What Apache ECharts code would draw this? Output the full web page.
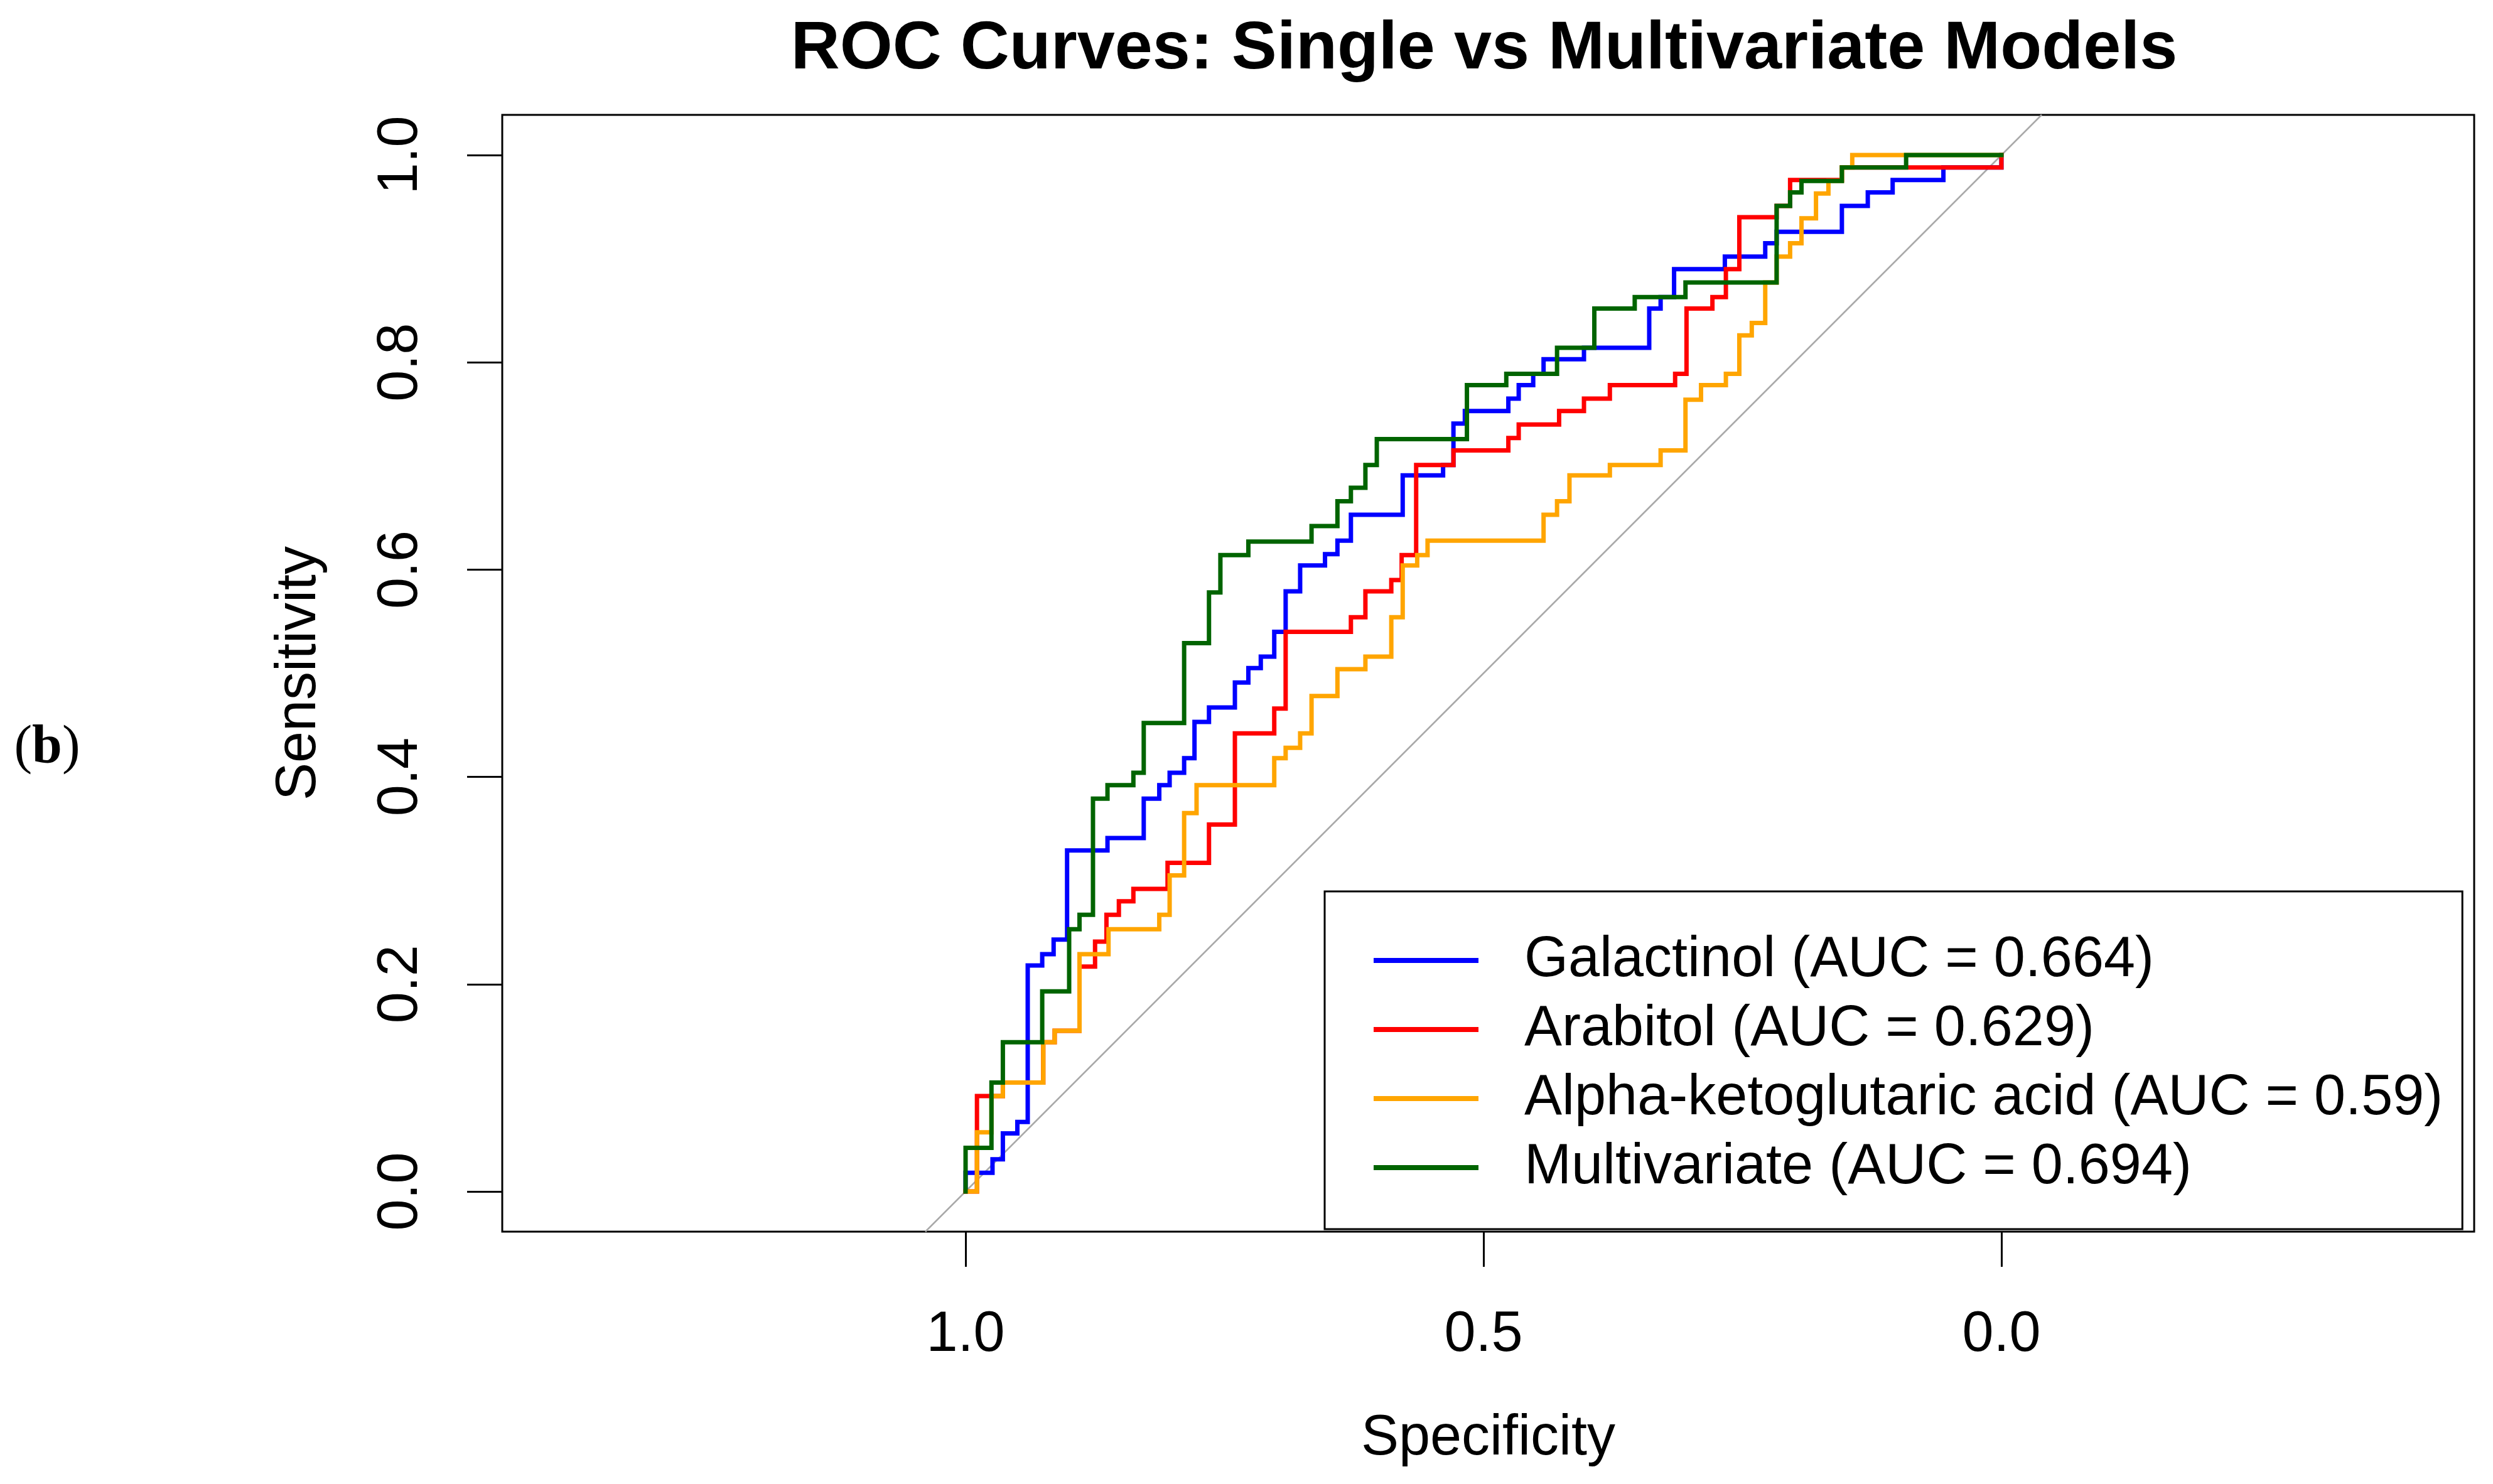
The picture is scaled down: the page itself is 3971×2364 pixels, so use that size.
<!DOCTYPE html>
<html>
<head>
<meta charset="utf-8">
<style>
html,body{margin:0;padding:0;background:#ffffff;}
#chart{width:3971px;height:2364px;}
</style>
<script src="https://cdn.jsdelivr.net/npm/echarts@6.0.0/dist/echarts.min.js"></script>
</head>
<body>
<div id="chart"></div>
<script>
// ---------------- data ----------------
const chartTitle = 'ROC Curves: Single vs Multivariate Models';
const xAxisTitle = 'Specificity';
const yAxisTitle = 'Sensitivity';
const panelLabel = '(b)';

const seriesNames = [
  'Galactinol (AUC = 0.664)',
  'Arabitol (AUC = 0.629)',
  'Alpha-ketoglutaric acid (AUC = 0.59)',
  'Multivariate (AUC = 0.694)'
];
const seriesColors = ['#0000FF', '#FF0000', '#FFA500', '#006400'];

const xTickValues = [0, 0.5, 1];
const yTickValues = [0, 0.2, 0.4, 0.6, 0.8, 1];

// chance (identity) line, clipped to the plotting box
const chanceLine = [[1.0388, -0.0388], [-0.0388, 1.0388]];

// ROC vertices: [specificity, sensitivity]
const galactinolROC = [
  [1,0],[1,0.018],[0.974,0.018],[0.974,0.031],[0.964,0.031],[0.964,0.056],[0.950,0.056],[0.950,0.067],
  [0.940,0.067],[0.940,0.218],[0.926,0.218],[0.926,0.229],[0.915,0.229],[0.915,0.243],[0.902,0.243],
  [0.902,0.329],[0.863,0.329],[0.863,0.341],[0.828,0.341],[0.828,0.379],[0.813,0.379],[0.813,0.392],
  [0.803,0.392],[0.803,0.404],[0.789,0.404],[0.789,0.418],[0.779,0.418],[0.779,0.453],[0.765,0.453],
  [0.765,0.467],[0.740,0.467],[0.740,0.491],[0.727,0.491],[0.727,0.505],[0.715,0.505],[0.715,0.516],
  [0.702,0.516],[0.702,0.540],[0.691,0.540],[0.691,0.579],[0.677,0.579],[0.677,0.604],[0.653,0.604],
  [0.653,0.615],[0.641,0.615],[0.641,0.628],[0.628,0.628],[0.628,0.653],[0.578,0.653],[0.578,0.691],
  [0.539,0.691],[0.539,0.701],[0.529,0.701],[0.529,0.741],[0.518,0.741],[0.518,0.753],[0.476,0.753],
  [0.476,0.765],[0.466,0.765],[0.466,0.778],[0.452,0.778],[0.452,0.789],[0.442,0.789],[0.442,0.803],
  [0.403,0.803],[0.403,0.814],[0.340,0.814],[0.340,0.852],[0.329,0.852],[0.329,0.863],[0.316,0.863],
  [0.316,0.890],[0.267,0.890],[0.267,0.902],[0.228,0.902],[0.228,0.915],[0.217,0.915],[0.217,0.926],
  [0.154,0.926],[0.154,0.951],[0.129,0.951],[0.129,0.964],[0.105,0.964],[0.105,0.976],[0.056,0.976],
  [0.056,0.988],[0,0.988],[0,1]
];

const arabitolROC = [
  [1,0],[0.989,0],[0.989,0.092],[0.964,0.092],[0.964,0.105],[0.925,0.105],[0.925,0.144],[0.914,0.144],
  [0.914,0.155],[0.890,0.155],[0.890,0.217],[0.875,0.217],[0.875,0.241],[0.864,0.241],[0.864,0.267],
  [0.852,0.267],[0.852,0.280],[0.838,0.280],[0.838,0.292],[0.805,0.292],[0.805,0.317],[0.765,0.317],
  [0.765,0.354],[0.740,0.354],[0.740,0.442],[0.702,0.442],[0.702,0.466],[0.691,0.466],[0.691,0.540],
  [0.628,0.540],[0.628,0.554],[0.614,0.554],[0.614,0.579],[0.589,0.579],[0.589,0.590],[0.579,0.590],
  [0.579,0.614],[0.565,0.614],[0.565,0.701],[0.529,0.701],[0.529,0.715],[0.476,0.715],[0.476,0.727],
  [0.466,0.727],[0.466,0.740],[0.427,0.740],[0.427,0.753],[0.403,0.753],[0.403,0.765],[0.378,0.765],
  [0.378,0.778],[0.315,0.778],[0.315,0.789],[0.304,0.789],[0.304,0.852],[0.279,0.852],[0.279,0.863],
  [0.266,0.863],[0.266,0.890],[0.253,0.890],[0.253,0.940],[0.217,0.940],[0.217,0.951],[0.204,0.951],
  [0.204,0.976],[0.154,0.976],[0.154,0.988],[0,0.988],[0,1]
];

const alphaKetoglutaricROC = [
  [1,0],[0.989,0],[0.989,0.057],[0.975,0.057],[0.975,0.092],[0.964,0.092],[0.964,0.105],[0.925,0.105],
  [0.925,0.144],[0.914,0.144],[0.914,0.155],[0.890,0.155],[0.890,0.229],[0.862,0.229],[0.862,0.253],
  [0.813,0.253],[0.813,0.267],[0.803,0.267],[0.803,0.305],[0.789,0.305],[0.789,0.365],[0.777,0.365],
  [0.777,0.392],[0.702,0.392],[0.702,0.418],[0.691,0.418],[0.691,0.428],[0.677,0.428],[0.677,0.442],
  [0.666,0.442],[0.666,0.478],[0.641,0.478],[0.641,0.504],[0.614,0.504],[0.614,0.516],[0.589,0.516],
  [0.589,0.554],[0.578,0.554],[0.578,0.604],[0.564,0.604],[0.564,0.614],[0.554,0.614],[0.554,0.628],
  [0.442,0.628],[0.442,0.653],[0.429,0.653],[0.429,0.666],[0.417,0.666],[0.417,0.691],[0.378,0.691],
  [0.378,0.701],[0.329,0.701],[0.329,0.715],[0.305,0.715],[0.305,0.764],[0.290,0.764],[0.290,0.778],
  [0.266,0.778],[0.266,0.789],[0.253,0.789],[0.253,0.826],[0.241,0.826],[0.241,0.838],[0.228,0.838],
  [0.228,0.877],[0.217,0.877],[0.217,0.902],[0.204,0.902],[0.204,0.915],[0.193,0.915],[0.193,0.939],
  [0.179,0.939],[0.179,0.963],[0.167,0.963],[0.167,0.975],[0.154,0.975],[0.154,0.988],[0.144,0.988],
  [0.144,1],[0,1]
];

const multivariateROC = [
  [1,0],[1,0.042],[0.975,0.042],[0.975,0.105],[0.964,0.105],[0.964,0.144],[0.926,0.144],[0.926,0.193],
  [0.900,0.193],[0.900,0.253],[0.890,0.253],[0.890,0.267],[0.877,0.267],[0.877,0.379],[0.863,0.379],
  [0.863,0.392],[0.838,0.392],[0.838,0.404],[0.828,0.404],[0.828,0.452],[0.789,0.452],[0.789,0.529],
  [0.765,0.529],[0.765,0.578],[0.754,0.578],[0.754,0.614],[0.727,0.614],[0.727,0.627],[0.666,0.627],
  [0.666,0.642],[0.641,0.642],[0.641,0.666],[0.628,0.666],[0.628,0.679],[0.614,0.679],[0.614,0.701],
  [0.603,0.701],[0.603,0.726],[0.516,0.726],[0.516,0.778],[0.478,0.778],[0.478,0.789],[0.429,0.789],
  [0.429,0.814],[0.393,0.814],[0.393,0.852],[0.354,0.852],[0.354,0.863],[0.305,0.863],[0.305,0.877],
  [0.217,0.877],[0.217,0.951],[0.204,0.951],[0.204,0.964],[0.193,0.964],[0.193,0.975],[0.154,0.975],
  [0.154,0.988],[0.092,0.988],[0.092,1],[0,1]
];

const rocCurves = [galactinolROC, arabitolROC, alphaKetoglutaricROC, multivariateROC];

// ---------------- chart ----------------
const SANS = '"Liberation Sans", Arial, Helvetica, sans-serif';
const SERIF = '"Liberation Serif", "Times New Roman", serif';

const chart = echarts.init(document.getElementById('chart'), null, {
  renderer: 'canvas', width: 3971, height: 2364, devicePixelRatio: 1
});

const curveSeries = rocCurves.map((pts, i) => ({
  name: seriesNames[i],
  type: 'line',
  data: pts,
  symbol: 'none',
  showSymbol: false,
  silent: true,
  clip: true,
  z: 3 + i,
  lineStyle: { color: seriesColors[i], width: 7, cap: 'square', join: 'miter' },
  itemStyle: { color: seriesColors[i] }
}));

const option = {
  backgroundColor: '#ffffff',
  animation: false,
  title: {
    text: chartTitle,
    left: 2364,
    top: 25,
    padding: 0,
    textAlign: 'center',
    textStyle: { fontFamily: SANS, fontSize: 108, fontWeight: 'bold', color: '#000000' }
  },
  grid: {
    left: 800, top: 183, width: 3141, height: 1779,
    show: true, borderColor: '#000000', borderWidth: 3, backgroundColor: 'transparent',
    containLabel: false
  },
  xAxis: {
    type: 'value',
    inverse: true,
    position: 'bottom',
    min: -0.4564,
    max: 1.4473,
    name: xAxisTitle,
    nameLocation: 'middle',
    nameGap: 285,
    nameTextStyle: { fontFamily: SANS, fontSize: 90, color: '#000000' },
    axisLine: { show: false, onZero: false },
    splitLine: { show: false },
    axisTick: {
      show: true, inside: false, length: 56, customValues: xTickValues,
      lineStyle: { color: '#000000', width: 3 }
    },
    axisLabel: {
      show: true, customValues: xTickValues, margin: 120,
      fontFamily: SANS, fontSize: 90, color: '#000000',
      formatter: v => Number(v).toFixed(1)
    }
  },
  yAxis: {
    type: 'value',
    position: 'left',
    min: -0.0388,
    max: 1.0388,
    name: yAxisTitle,
    nameLocation: 'middle',
    nameGap: 278,
    nameRotate: 90,
    nameTextStyle: { fontFamily: SANS, fontSize: 90, color: '#000000' },
    axisLine: { show: false, onZero: false },
    splitLine: { show: false },
    axisTick: {
      show: true, inside: false, length: 56, customValues: yTickValues,
      lineStyle: { color: '#000000', width: 3 }
    },
    axisLabel: {
      show: true, customValues: yTickValues, margin: 116, rotate: 90,
      fontFamily: SANS, fontSize: 90, color: '#000000',
      formatter: v => Number(v).toFixed(1)
    }
  },
  legend: {
    show: true,
    orient: 'vertical',
    left: 2110,
    top: 1420,
    padding: [60, 31, 48, 78],
    icon: 'rect',
    itemWidth: 167,
    itemHeight: 8,
    itemGap: 10,
    backgroundColor: '#ffffff',
    borderColor: '#000000',
    borderWidth: 3,
    borderRadius: 0,
    selectedMode: false,
    data: seriesNames,
    itemStyle: { borderWidth: 0 },
    textStyle: {
      fontFamily: SANS, fontSize: 90, color: '#000000',
      lineHeight: 100, padding: [0, 0, 0, 68]
    }
  },
  graphic: [
    {
      type: 'text',
      x: 75,
      y: 1192,
      silent: true,
      style: {
        text: '{p|(}{b|b}{p|)}',
        align: 'center',
        verticalAlign: 'middle',
        rich: {
          p: { fontFamily: SERIF, fontSize: 86, fill: '#000000' },
          b: { fontFamily: SERIF, fontSize: 86, fontWeight: 'bold', fill: '#000000' }
        }
      }
    }
  ],
  series: [
    {
      name: 'chance',
      type: 'line',
      data: chanceLine,
      symbol: 'none',
      silent: true,
      clip: true,
      z: 2,
      lineStyle: { color: '#A9A9A9', width: 2.5 }
    }
  ].concat(curveSeries)
};

chart.setOption(option);
</script>
</body>
</html>
